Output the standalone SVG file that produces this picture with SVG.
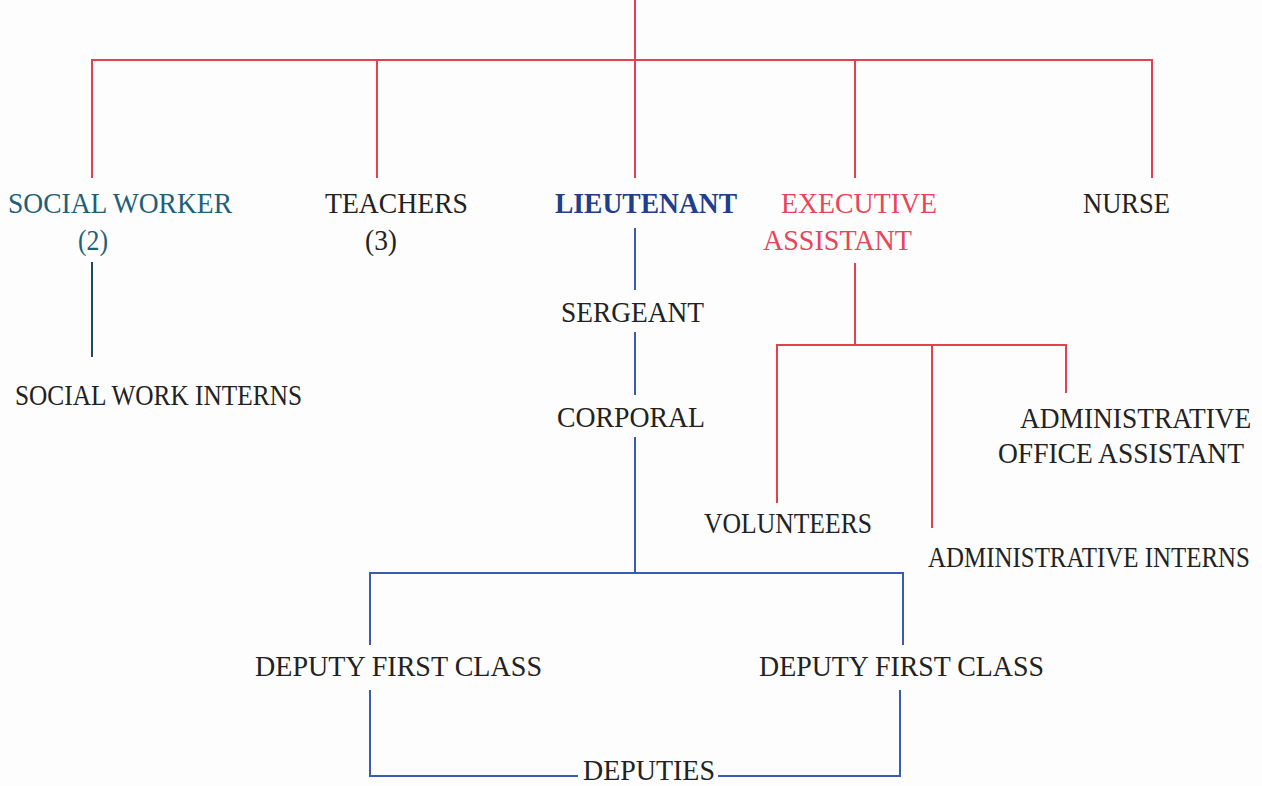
<svg xmlns="http://www.w3.org/2000/svg" width="1262" height="786" viewBox="0 0 1262 786">
<style>
text{font-family:"Liberation Serif","Times New Roman",serif;font-size:29px;fill:#222;}
.teal{fill:#1f5f78;}
.blue{fill:#1f3f8c;font-weight:bold;}
.red{fill:#e8455a;}
.r{stroke:#e4404f;stroke-width:2;fill:none;}
.b{stroke:#3a5cb0;stroke-width:2;fill:none;}
.k{stroke:#1f4a5a;stroke-width:2;fill:none;}
</style>
<rect width="1262" height="786" fill="#fdfdfd"/>
<g id="connectors">
<path class="r" d="M635 0V178M92 178V60H1152V178M377 60V178M855 60V178"/>
<path class="k" d="M92 262V357"/>
<path class="b" d="M635 228V290M635 332V395M635 437V573M370 645V573H903V645"/>
<path class="b" d="M370 690V776H578M718 776H900V690"/>
<path class="r" d="M855 263V345M777 503V345H1066V393M932 345V528"/>
</g>
<g id="social-worker"><text class="teal" x="8" y="213" textLength="224" lengthAdjust="spacingAndGlyphs">SOCIAL WORKER</text><text class="teal" x="78" y="250" textLength="30" lengthAdjust="spacingAndGlyphs">(2)</text></g>
<g id="teachers"><text x="325" y="213" textLength="143" lengthAdjust="spacingAndGlyphs">TEACHERS</text><text x="365" y="250" textLength="32" lengthAdjust="spacingAndGlyphs">(3)</text></g>
<g id="lieutenant"><text class="blue" x="555" y="213" textLength="182" lengthAdjust="spacingAndGlyphs">LIEUTENANT</text></g>
<g id="executive-assistant"><text class="red" x="781" y="213" textLength="156" lengthAdjust="spacingAndGlyphs">EXECUTIVE</text><text class="red" x="763" y="250" textLength="149" lengthAdjust="spacingAndGlyphs">ASSISTANT</text></g>
<g id="nurse"><text x="1083" y="213" textLength="87" lengthAdjust="spacingAndGlyphs">NURSE</text></g>
<g id="social-work-interns"><text x="15" y="405" textLength="287" lengthAdjust="spacingAndGlyphs">SOCIAL WORK INTERNS</text></g>
<g id="sergeant"><text x="561" y="322" textLength="143" lengthAdjust="spacingAndGlyphs">SERGEANT</text></g>
<g id="corporal"><text x="557" y="427" textLength="148" lengthAdjust="spacingAndGlyphs">CORPORAL</text></g>
<g id="admin-office-assistant"><text transform="translate(1020 428) scale(0.945 1)">ADMINISTRATIVE</text><text x="998" y="463" textLength="246" lengthAdjust="spacingAndGlyphs">OFFICE ASSISTANT</text></g>
<g id="volunteers"><text x="704" y="533" textLength="168" lengthAdjust="spacingAndGlyphs">VOLUNTEERS</text></g>
<g id="admin-interns"><text transform="translate(928 567) scale(0.86 1)">ADMINISTRATIVE INTERNS</text></g>
<g id="deputy-first-class-1"><text x="255" y="676" textLength="287" lengthAdjust="spacingAndGlyphs">DEPUTY FIRST CLASS</text></g>
<g id="deputy-first-class-2"><text x="759" y="676" textLength="285" lengthAdjust="spacingAndGlyphs">DEPUTY FIRST CLASS</text></g>
<g id="deputies"><text x="583" y="780" textLength="132" lengthAdjust="spacingAndGlyphs">DEPUTIES</text></g>
</svg>
